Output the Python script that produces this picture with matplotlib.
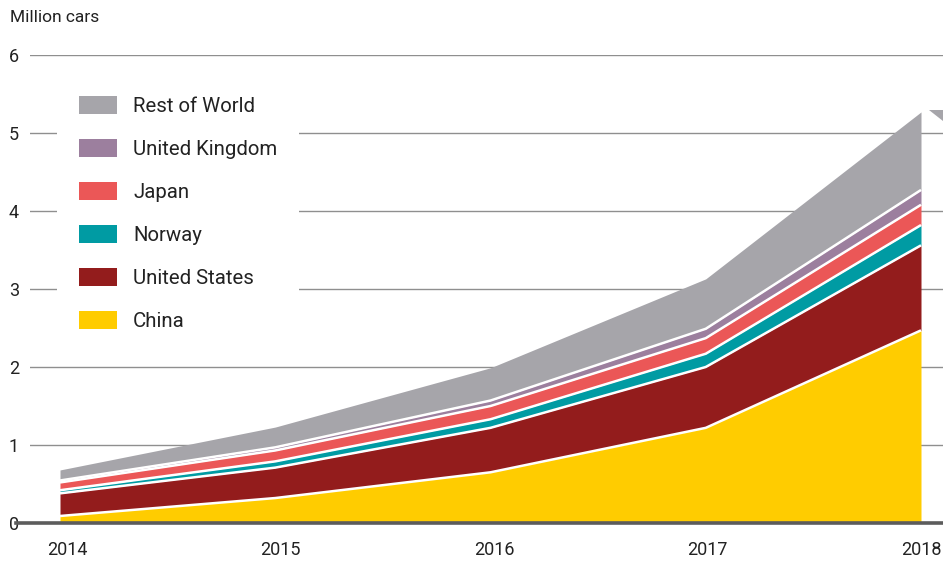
import matplotlib
matplotlib.use("Agg")
import matplotlib.pyplot as plt
from matplotlib.patches import Patch, Polygon
import numpy as np

plt.rcParams['font.family'] = ['Roboto', 'DejaVu Sans']

years = [2014, 2015, 2016, 2017, 2018]
series_names = ["China", "United States", "Norway", "Japan", "United Kingdom", "Rest of World"]
china = [0.09, 0.32, 0.65, 1.22, 2.47]
united_states = [0.29, 0.39, 0.57, 0.78, 1.09]
norway = [0.04, 0.08, 0.11, 0.17, 0.26]
japan = [0.10, 0.14, 0.17, 0.20, 0.26]
united_kingdom = [0.025, 0.04, 0.07, 0.12, 0.19]
rest_of_world = [0.135, 0.26, 0.42, 0.64, 1.00]
colors = ["#FFCC00", "#931C1C", "#009BA3", "#EB5757", "#9C7F9E", "#A6A5AA"]

y_ticks = [0, 1, 2, 3, 4, 5, 6]
x_labels = ["2014", "2015", "2016", "2017", "2018"]

W, H = 943, 561
fig = plt.figure(figsize=(W / 100, H / 100), dpi=100)
ax_left, ax_right = 30, 943
ax_top, ax_bot = 55, 523
ax = fig.add_axes([ax_left / W, (H - ax_bot) / H, (ax_right - ax_left) / W, (ax_bot - ax_top) / H])

data = [china, united_states, norway, japan, united_kingdom, rest_of_world]
x = np.array(years, dtype=float)
base = np.zeros(len(years))
tops = []
for vals, c in zip(data, colors):
    top = base + np.array(vals)
    ax.fill_between(x, base, top, color=c, lw=0, zorder=2)
    tops.append(top)
    base = top
for top in tops[:-1]:
    ax.plot(x, top, color="white", lw=1.8, zorder=3, solid_capstyle="butt")
ax.plot(x, np.zeros(len(x)), color="white", lw=1.8, zorder=3)

# grid
for t in y_ticks[1:]:
    ax.axhline(t, color="#8f8f8f", lw=1.0, zorder=1)
ax.axhline(0, color="#5c5c5c", lw=2.6, zorder=4, xmin=-0.015, clip_on=False)

px_per_year = (921 - 60) / 4.0
ax.set_xlim(2014 - (60 - ax_left) / px_per_year, 2018 + (ax_right - 921) / px_per_year)
ax.set_ylim(0, 6)
for s in ax.spines.values():
    s.set_visible(False)
ax.set_xticks([])
ax.set_yticks(y_ticks)
ax.set_yticklabels([str(t) for t in y_ticks], fontsize=13, color="#222222")
ax.tick_params(axis="both", length=0)
ax.tick_params(axis="y", pad=8)

# category labels axis (labels evenly spaced from 67px to 921px)
axl = ax.twiny()
lab_px = (921 - 67) / 4.0
axl.set_xlim(2014 - (67 - ax_left) / lab_px, 2018 + (ax_right - 921) / lab_px)
axl.xaxis.set_ticks_position("bottom")
axl.set_xticks(years)
axl.set_xticklabels(x_labels, fontsize=13, color="#222222")
axl.tick_params(axis="x", length=0, pad=13)
for s in axl.spines.values():
    s.set_visible(False)

fig.text(10 / W, 1 - 18 / H, "Million cars", fontsize=12.5, color="#222222", va="center", ha="left")

fs = 14.7
fs_px = fs * 100 / 72
handles = [Patch(facecolor=c, edgecolor="none", label=n) for n, c in zip(series_names, colors)][::-1]
leg = axl.legend(handles=handles, loc="upper left",
                 bbox_to_anchor=((57 - ax_left) / (ax_right - ax_left), 1 - (74 - ax_top) / (ax_bot - ax_top)),
                 frameon=True, fancybox=False, framealpha=1, facecolor="white", edgecolor="none",
                 fontsize=fs, handlelength=38 / fs_px, handleheight=0.95, handletextpad=16 / fs_px,
                 labelspacing=1.14, borderpad=22 / fs_px, borderaxespad=0)
for t in leg.get_texts():
    t.set_color("#222222")

tri = Polygon([[929 / W, 1 - 110 / H], [943 / W, 1 - 110 / H], [943 / W, 1 - 121 / H]],
              closed=True, transform=fig.transFigure, facecolor="#A6A5AA", edgecolor="none")
fig.patches.append(tri)

fig.savefig("out.png", dpi=100)
